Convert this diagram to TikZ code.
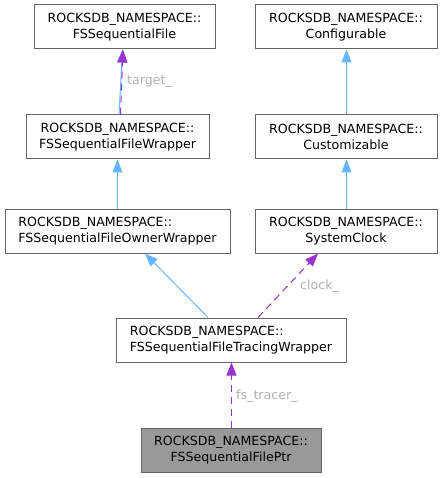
\documentclass[tikz,border=0pt]{standalone}
\usepackage{fontspec}
\setmainfont{DejaVu Sans}
\usetikzlibrary{arrows.meta,calc}
\definecolor{inhblue}{HTML}{63B8FF}
\definecolor{usepurple}{HTML}{9A32CD}
\definecolor{boxgray}{HTML}{666666}
\definecolor{lblgray}{HTML}{B0B0B0}

\begin{document}
\begin{tikzpicture}[x=1pt,y=-1pt,
  cls/.style={draw=boxgray,fill=white,line width=1pt,minimum height=44pt,
    inner sep=0pt,align=center,font=\fontsize{12.6}{15.7}\selectfont},
  inh/.style={draw=inhblue,line width=1pt,-{Triangle[length=13pt,width=10pt]}},
  use/.style={draw=usepurple,line width=1pt,dash pattern=on 7pt off 5pt,
    -{Triangle[length=13pt,width=10pt]}},
  lbl/.style={text=lblgray,font=\fontsize{12.6}{15}\selectfont,inner sep=0pt,anchor=west}]
\useasboundingbox (0,0) rectangle (442,478);

\node[cls,minimum width=181pt] (file) at (124.5,27) {ROCKSDB\_NAMESPACE::\\FSSequentialFile};
\node[cls,minimum width=182pt] (conf) at (346,27) {ROCKSDB\_NAMESPACE::\\Configurable};
\node[cls,minimum width=183pt] (wrap) at (117.5,137) {ROCKSDB\_NAMESPACE::\\FSSequentialFileWrapper};
\node[cls,minimum width=182pt] (cust) at (346,137) {ROCKSDB\_NAMESPACE::\\Customizable};
\node[cls,minimum width=225pt,align=left] (owner) at (117.5,231) {ROCKSDB\_NAMESPACE::\\FSSequentialFileOwnerWrapper};
\node[cls,minimum width=182pt] (clock) at (346,231) {ROCKSDB\_NAMESPACE::\\SystemClock};
\node[cls,minimum width=230pt,align=left] (trace) at (231,340) {ROCKSDB\_NAMESPACE::\\FSSequentialFileTracingWrapper};
\node[cls,minimum width=180pt,fill=gray!80] (ptr) at (231,450) {ROCKSDB\_NAMESPACE::\\FSSequentialFilePtr};

\draw[inh] ([xshift=1.5pt]wrap.north) -- ([xshift=-2pt]file.south);
\draw[use] ([xshift=3pt]wrap.north) -- ([xshift=-1.5pt]file.south);
\draw[inh] ([xshift=.5pt]cust.north) -- ([xshift=.5pt]conf.south);
\draw[inh] (owner) -- (wrap);
\draw[inh] ([xshift=.5pt]clock.north) -- ([xshift=.5pt]cust.south);
\draw[inh] ([xshift=-23pt]trace.north) -- ([xshift=27.5pt]owner.south);
\draw[use] ([xshift=27pt]trace.north) -- ([xshift=-28pt]clock.south);
\draw[use] ([xshift=.5pt]ptr.north) -- ([xshift=.5pt]trace.south);

\node[lbl] (ltarget) at (127,82) {target\_};
\node[lbl] (lclock) at (300,286) {clock\_};
\node[lbl] (ltracer) at (236,396) {fs\_tracer\_};

\end{tikzpicture}
\end{document}
